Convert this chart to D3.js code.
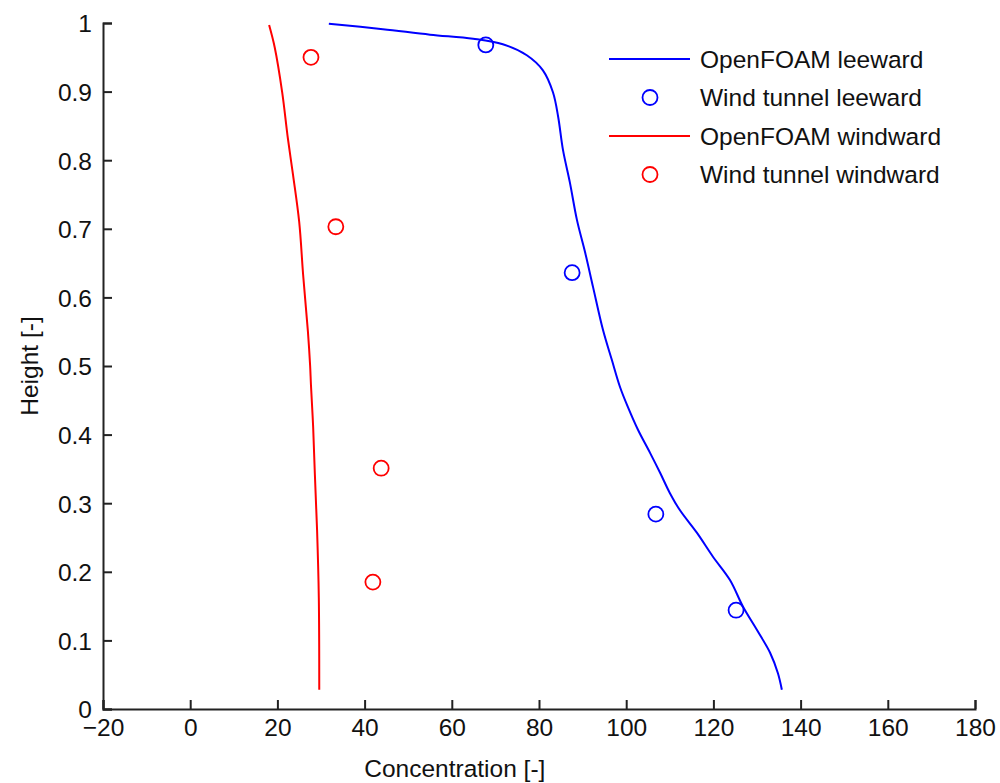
<!DOCTYPE html>
<html>
<head>
<meta charset="utf-8">
<script src="https://cdn.jsdelivr.net/npm/d3@7"></script>
<style>
  body { margin: 0; background: #fff; }
  text { font-family: "Liberation Sans", Arial, sans-serif; fill: #111; }
</style>
</head>
<body>
<div class="chart"></div>
<script>
// OpenFOAM leeward profile (concentration, height)
var leeConc = [31.8, 44.2, 55.0, 64.9, 71.7, 77.2, 80.9, 83.2, 84.4, 85.5, 87.1, 88.7, 90.6, 92.4, 94.7, 96.7, 98.6, 100.4, 102.7, 105.5, 107.8, 110.0, 112.3, 116.2, 119.9, 123.8, 126.8, 130.0, 133.0, 134.8, 135.7];
var leeH    = [0.999, 0.991, 0.983, 0.977, 0.969, 0.953, 0.931, 0.899, 0.863, 0.815, 0.767, 0.713, 0.665, 0.615, 0.552, 0.509, 0.469, 0.440, 0.407, 0.373, 0.344, 0.315, 0.290, 0.257, 0.222, 0.188, 0.149, 0.115, 0.082, 0.052, 0.028];

// OpenFOAM windward profile
var windConc = [18.1, 19.4, 21.1, 22.4, 23.6, 25.0, 25.9, 27.0, 27.5, 27.7, 28.2, 28.6, 29.1, 29.5, 29.6];
var windH    = [0.997, 0.964, 0.899, 0.832, 0.778, 0.710, 0.633, 0.550, 0.501, 0.472, 0.411, 0.341, 0.261, 0.162, 0.028];

// wind tunnel measurements
var tunLeeConc = [67.8, 87.6, 106.8, 125.2];
var tunLeeH    = [0.968, 0.636, 0.284, 0.144];
var tunWindConc = [27.7, 33.4, 43.8, 41.9];
var tunWindH    = [0.950, 0.703, 0.351, 0.185];

var xTicks = [-20, 0, 20, 40, 60, 80, 100, 120, 140, 160, 180];
var yTicks = [0, 0.1, 0.2, 0.3, 0.4, 0.5, 0.6, 0.7, 0.8, 0.9, 1];

var legendNames = ["OpenFOAM leeward", "Wind tunnel leeward", "OpenFOAM windward", "Wind tunnel windward"];

var margin = {top: 23, right: 25, bottom: 74, left: 103},
    width = 1000 - margin.left - margin.right,
    height = 783 - margin.top - margin.bottom;

var svg = d3.select(".chart").append("svg")
    .attr("width", 1000)
    .attr("height", 783);

var g = svg.append("g")
    .attr("transform", "translate(" + margin.left + "," + margin.top + ")");

var x = d3.scaleLinear().domain([-20, 180]).range([0, width]),
    y = d3.scaleLinear().domain([0, 1]).range([height, 0]);

var fs = 24.5;

// axes, ticks pointing inwards like matlab
var xAxis = g.append("g")
    .attr("transform", "translate(0," + height + ")")
    .call(d3.axisBottom(x).tickValues(xTicks).tickSize(-9).tickPadding(14).tickFormat(d3.format("d")));
var yAxis = g.append("g")
    .call(d3.axisLeft(y).tickValues(yTicks).tickSize(-9).tickPadding(11).tickFormat(function(d) { return d3.format("~g")(d); }));

[xAxis, yAxis].forEach(function(a) {
  a.select(".domain").attr("stroke", "#222").attr("stroke-width", 2);
  a.selectAll(".tick line").attr("stroke", "#222").attr("stroke-width", 2);
  a.selectAll(".tick text").style("font-size", fs + "px").attr("fill", "#111")
    .style("font-family", "'Liberation Sans', Arial, sans-serif");
});
xAxis.selectAll(".tick text").attr("dy", "0.55em");
yAxis.selectAll(".tick text").attr("dy", "0.36em");

// axis labels
svg.append("text")
    .attr("x", margin.left + x(60) + 3)
    .attr("y", 777)
    .attr("text-anchor", "middle")
    .style("font-size", fs + "px")
    .text("Concentration [-]");

svg.append("text")
    .attr("transform", "translate(38," + (margin.top + y(0.5)) + ") rotate(-90)")
    .attr("text-anchor", "middle")
    .style("font-size", fs + "px")
    .text("Height [-]");

var line = d3.line()
    .curve(d3.curveCatmullRom)
    .x(function(d) { return x(d[0]); })
    .y(function(d) { return y(d[1]); });

g.append("path")
    .datum(d3.zip(leeConc, leeH))
    .attr("fill", "none")
    .attr("stroke", "#0000ff")
    .attr("stroke-width", 2)
    .attr("d", line);

g.append("path")
    .datum(d3.zip(windConc, windH))
    .attr("fill", "none")
    .attr("stroke", "#ff0000")
    .attr("stroke-width", 2)
    .attr("d", line);

g.selectAll(".tunLee")
    .data(d3.zip(tunLeeConc, tunLeeH))
  .enter().append("circle")
    .attr("class", "tunLee")
    .attr("cx", function(d) { return x(d[0]); })
    .attr("cy", function(d) { return y(d[1]); })
    .attr("r", 7.5)
    .attr("fill", "none")
    .attr("stroke", "#0000ff")
    .attr("stroke-width", 1.8);

g.selectAll(".tunWind")
    .data(d3.zip(tunWindConc, tunWindH))
  .enter().append("circle")
    .attr("class", "tunWind")
    .attr("cx", function(d) { return x(d[0]); })
    .attr("cy", function(d) { return y(d[1]); })
    .attr("r", 7.5)
    .attr("fill", "none")
    .attr("stroke", "#ff0000")
    .attr("stroke-width", 1.8);

// legend
var legendColors = ["#0000ff", "#0000ff", "#ff0000", "#ff0000"];
var legendType = ["line", "circle", "line", "circle"];
var legend = svg.append("g").attr("transform", "translate(609,59)");
legendNames.forEach(function(name, i) {
  var row = legend.append("g").attr("transform", "translate(0," + (i * 38.5) + ")");
  if (legendType[i] == "line") {
    row.append("line")
      .attr("x1", 0).attr("x2", 81)
      .attr("stroke", legendColors[i]).attr("stroke-width", 2);
  } else {
    row.append("circle")
      .attr("cx", 41).attr("r", 7.5)
      .attr("fill", "none")
      .attr("stroke", legendColors[i]).attr("stroke-width", 1.8);
  }
  row.append("text")
    .attr("x", 91)
    .attr("dy", "0.36em")
    .style("font-size", fs + "px")
    .text(name);
});
</script>
</body>
</html>
